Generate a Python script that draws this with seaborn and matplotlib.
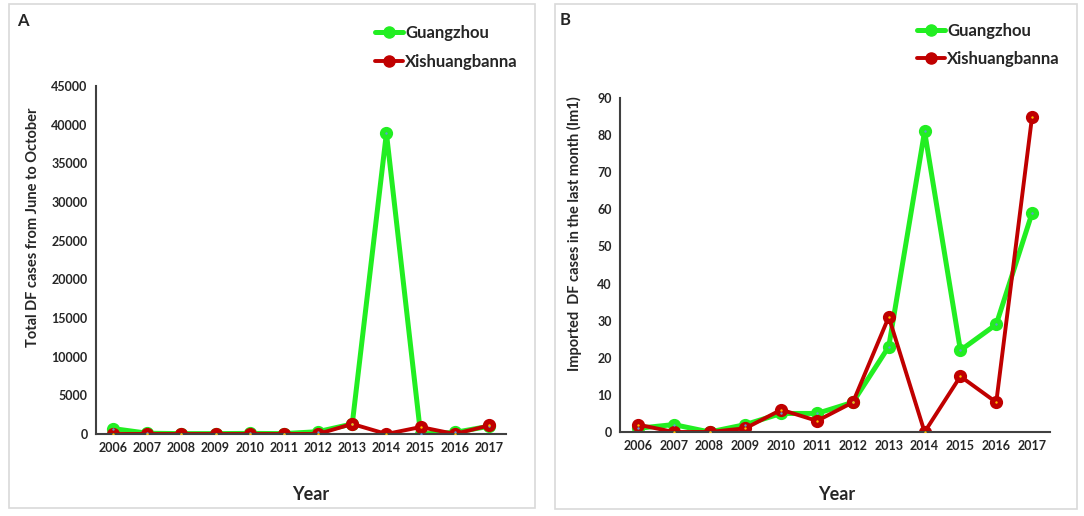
import pandas as pd
import matplotlib.pyplot as plt
import seaborn as sns
from matplotlib.patches import Rectangle
from matplotlib.lines import Line2D

years = list(range(2006, 2018))
cities = ["Guangzhou", "Xishuangbanna"]

# panel A: total DF cases June-October
total_gz = [700, 100, 50, 50, 80, 50, 300, 1300, 38900, 0, 200, 1000]
total_xs = [0, 0, 0, 0, 0, 0, 0, 1300, 0, 900, 0, 1100]

# panel B: imported cases in the last month
imp_gz = [1, 2, 0, 2, 5, 5, 8, 23, 81, 22, 29, 59]
imp_xs = [2, 0, 0, 1, 6, 3, 8, 31, 0, 15, 8, 85]

colors = {"Guangzhou": "#22EE22", "Xishuangbanna": "#C00000"}
dots = {"Guangzhou": "#5B9BD5", "Xishuangbanna": "#FFC000"}
widths = {"Guangzhou": 3.6, "Xishuangbanna": 2.8}

def long_df(gz, xs):
    return pd.DataFrame({
        "Year": years * 2,
        "value": gz + xs,
        "city": ["Guangzhou"] * len(years) + ["Xishuangbanna"] * len(years),
    })

sns.set_style("white")
plt.rcParams['font.family'] = ['Lato', 'DejaVu Sans']
plt.rcParams['font.weight'] = 'bold'

fig = plt.figure(figsize=(10.84, 5.16), dpi=100)
W, H = 1084, 516

def px_axes(l, t, r, b):
    return fig.add_axes([l / W, 1 - b / H, (r - l) / W, (b - t) / H])

# panel frames
for (l, t, r, b) in [(9, 4, 535, 508), (555, 4, 1077, 509)]:
    fig.patches.append(Rectangle((l / W, 1 - b / H), (r - l) / W, (b - t) / H,
                                 transform=fig.transFigure, fill=False,
                                 edgecolor="#d9d9d9", linewidth=1.2))

axA = px_axes(96, 86, 506, 434)
axB = px_axes(620, 98, 1050, 432)

panels = [
    (axA, long_df(total_gz, total_xs), 45000, 5000, "Total DF cases from June to October",
     (-0.137, 0.595), (0.524, -0.150), "A", (23, 21)),
    (axB, long_df(imp_gz, imp_xs), 90, 10, "Imported  DF cases in the last month (Im1)",
     (-0.088, 0.593), (0.505, -0.162), "B", (565, 20)),
]

for ax, df, ymax, step, ylab, ylc, xlc, letter, lpos in panels:
    for city in cities:
        sub = df[df["city"] == city]
        sns.lineplot(data=sub, x="Year", y="value", ax=ax, color=colors[city],
                     linewidth=widths[city], marker="o", markersize=8,
                     markeredgecolor=colors[city], markeredgewidth=1.5, legend=False)
        sns.scatterplot(data=sub, x="Year", y="value", ax=ax, color=dots[city],
                        s=3, linewidth=0, legend=False, zorder=5)
    ax.set_xlim(2005.5, 2017.5)
    ax.set_ylim(0, ymax)
    ax.set_xticks(years)
    ax.set_xticklabels([str(y) for y in years], fontsize=9, fontweight="bold")
    ax.set_yticks(range(0, ymax + 1, step))
    ax.set_yticklabels([str(v) for v in range(0, ymax + 1, step)], fontsize=9, fontweight="bold")
    ax.tick_params(length=0, pad=6)
    for s in ["top", "right"]:
        ax.spines[s].set_visible(False)
    for s in ["left", "bottom"]:
        ax.spines[s].set_color("#404040")
        ax.spines[s].set_linewidth(1.5)
    ax.set_ylabel(ylab, fontsize=10.5, fontweight="bold")
    ax.yaxis.set_label_coords(*ylc)
    ax.set_xlabel("Year", fontsize=13, fontweight="bold")
    ax.xaxis.set_label_coords(*xlc)
    ax.patch.set_alpha(0)
    fig.text(lpos[0] / W, 1 - lpos[1] / H, letter, fontsize=12, fontweight="bold",
             ha="center", va="center")

handles = [Line2D([], [], color=colors[c], linewidth=widths[c], marker="o", markersize=8,
                  markeredgecolor=colors[c]) for c in cities]
for x0, y0, sp in [(360, 10, 0.78), (902, 8, 0.72)]:
    fig.legend(handles, cities, loc="upper left", bbox_to_anchor=(x0 / W, 1 - y0 / H),
               frameon=False, handlelength=1.68, handletextpad=0.12,
               labelspacing=sp, prop={"weight": "bold", "size": 12})

fig.savefig("out.png", dpi=100)
